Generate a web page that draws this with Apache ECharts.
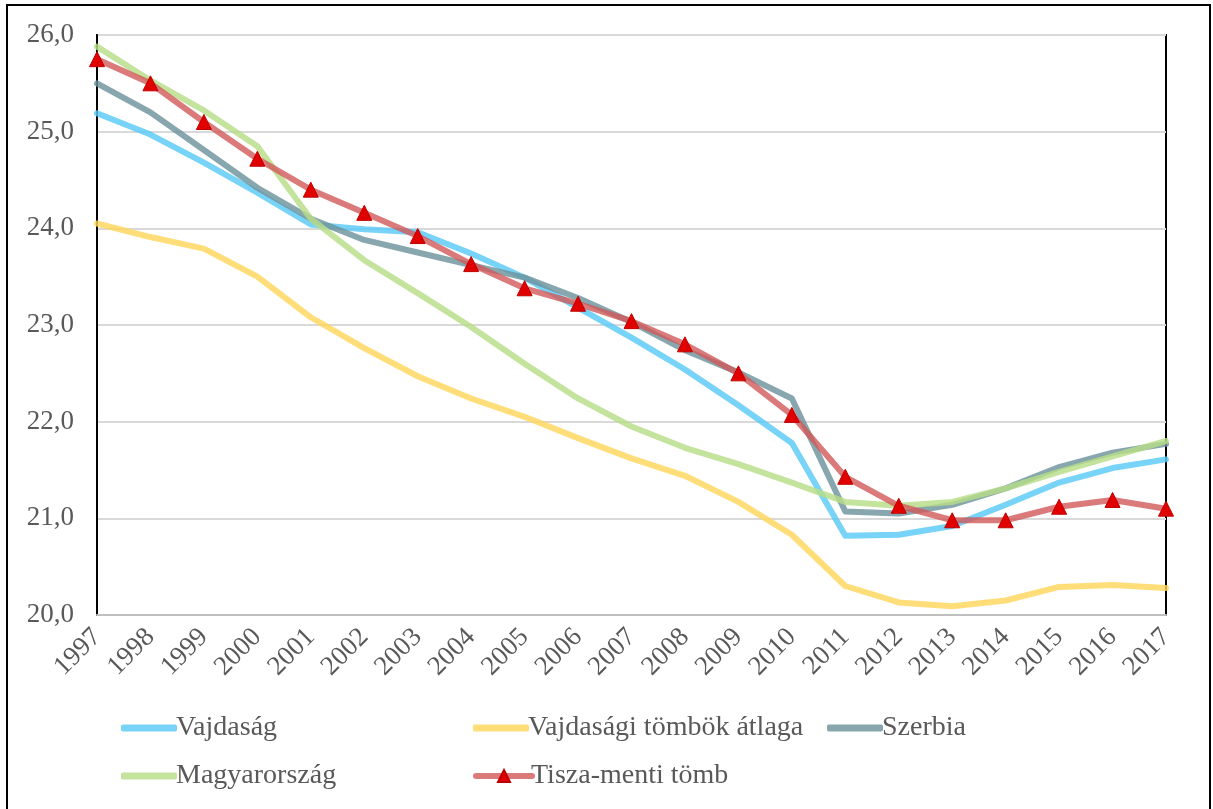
<!DOCTYPE html>
<html>
<head>
<meta charset="utf-8">
<script src="https://cdn.jsdelivr.net/npm/echarts@6/dist/echarts.min.js"></script>
<style>
html,body{margin:0;padding:0;background:#fff;}
#chart{width:1213px;height:809px;}
</style>
</head>
<body>
<div id="chart"></div>
<script>
const years = ['1997','1998','1999','2000','2001','2002','2003','2004','2005','2006','2007','2008','2009','2010','2011','2012','2013','2014','2015','2016','2017'];
const vajdasag = [25.19, 24.97, 24.68, 24.37, 24.04, 23.99, 23.96, 23.74, 23.49, 23.18, 22.87, 22.54, 22.17, 21.78, 20.82, 20.83, 20.92, 21.14, 21.37, 21.52, 21.61];
const tombok = [24.05, 23.91, 23.79, 23.50, 23.08, 22.76, 22.47, 22.24, 22.05, 21.83, 21.62, 21.44, 21.17, 20.83, 20.30, 20.13, 20.09, 20.15, 20.29, 20.31, 20.28];
const szerbia = [25.50, 25.20, 24.81, 24.42, 24.10, 23.88, 23.75, 23.62, 23.49, 23.28, 23.03, 22.74, 22.51, 22.24, 21.07, 21.05, 21.14, 21.31, 21.53, 21.68, 21.77];
const magyar = [25.88, 25.53, 25.22, 24.85, 24.10, 23.67, 23.33, 22.98, 22.60, 22.24, 21.95, 21.73, 21.56, 21.37, 21.17, 21.13, 21.17, 21.31, 21.48, 21.64, 21.80];
const tisza = [25.75, 25.50, 25.10, 24.72, 24.40, 24.16, 23.92, 23.63, 23.38, 23.22, 23.04, 22.80, 22.50, 22.07, 21.43, 21.13, 20.98, 20.98, 21.12, 21.19, 21.10];
const names = ['Vajdaság', 'Vajdasági tömbök átlaga', 'Szerbia', 'Magyarország', 'Tisza-menti tömb'];

const FONT = '"Liberation Serif", "Times New Roman", serif';
const TXT = '#595959';
const LW = 6;

function lineSeries(name, data, color) {
  return {
    name: name, type: 'line', data: data, symbol: 'none', z: 2,
    lineStyle: { color: color, width: LW, opacity: 0.82, cap: 'round', join: 'round' },
    itemStyle: { color: color }
  };
}

function legendAt(name, left, top, icon) {
  const l = {
    data: [name], left: left, top: top, itemWidth: 56, itemHeight: icon ? 7 : 15, itemGap: 0,
    textStyle: { fontFamily: FONT, fontSize: 28, color: TXT, padding: [0, 0, 0, -6] },
    selectedMode: false,
    lineStyle: { width: LW, cap: 'round', opacity: 0.8 }
  };
  if (icon) { l.icon = icon; l.itemStyle = { opacity: 0.82 }; }
  return l;
}

const chart = echarts.init(document.getElementById('chart'), null, { renderer: 'canvas' });
chart.setOption({
  animation: false,
  backgroundColor: '#fff',
  graphic: [{
    type: 'rect', shape: { x: 7, y: 5, width: 1203, height: 830 },
    style: { fill: 'none', stroke: '#000', lineWidth: 2 }, z: 100
  }],
  grid: { left: 97, right: 47, top: 35, bottom: 194, show: true, borderColor: '#000', borderWidth: 2, backgroundColor: 'transparent' },
  legend: [
    legendAt(names[0], 116, 709, 'roundRect'),
    legendAt(names[1], 468, 709, 'roundRect'),
    legendAt(names[2], 822, 709, 'roundRect'),
    legendAt(names[3], 116, 757, 'roundRect'),
    legendAt(names[4], 468, 757, null)
  ],
  xAxis: {
    type: 'category', data: years, boundaryGap: false,
    axisLine: { show: true, lineStyle: { color: '#BFBFBF', width: 2 } },
    axisTick: { show: false },
    axisLabel: { rotate: 45, fontFamily: FONT, fontSize: 27, color: TXT, margin: 18, interval: 0 },
    splitLine: { show: false }
  },
  yAxis: {
    type: 'value', min: 20, max: 26, interval: 1,
    axisLine: { show: true, lineStyle: { color: '#000', width: 2 } },
    axisTick: { show: false },
    axisLabel: { fontFamily: FONT, fontSize: 27, color: TXT, margin: 23, formatter: v => v.toFixed(1).replace('.', ',') },
    splitLine: { show: true, lineStyle: { color: '#D9D9D9', width: 2 } }
  },
  series: [
    lineSeries(names[0], vajdasag, '#5AC9F6'),
    lineSeries(names[1], tombok, '#FFD65C'),
    lineSeries(names[2], szerbia, '#6D929B'),
    lineSeries(names[3], magyar, '#B7DD88'),
    {
      name: names[4], type: 'line', data: tisza, z: 3,
      symbol: 'triangle', symbolSize: [15, 15],
      lineStyle: { color: '#D15959', width: LW, opacity: 0.8, cap: 'round', join: 'round' },
      itemStyle: { color: '#E00000', borderColor: '#C00000', borderWidth: 1 }
    }
  ]
});
</script>
</body>
</html>
